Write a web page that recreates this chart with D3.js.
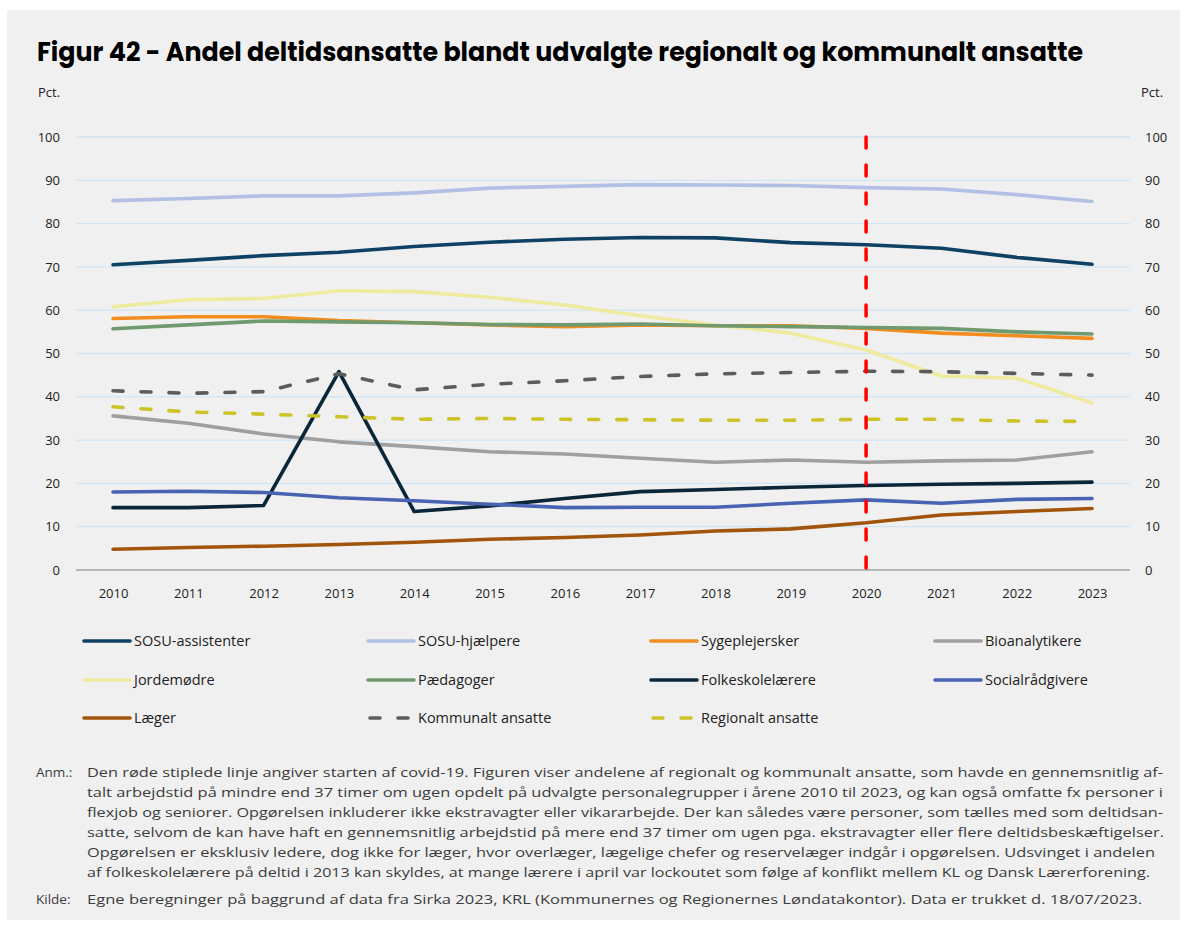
<!DOCTYPE html>
<html>
<head>
<meta charset="utf-8">
<script src="https://cdn.jsdelivr.net/npm/d3@7/dist/d3.min.js"></script>
<style>
  html, body { margin: 0; padding: 0; background: #ffffff; }
  svg { display: block; }
  text { font-family: "Open Sans", "Noto Sans", sans-serif; }
</style>
</head>
<body>
<svg id="chart" width="1186" height="926"></svg>
<script>
// Years on the x axis
const years = [2010, 2011, 2012, 2013, 2014, 2015, 2016, 2017, 2018, 2019, 2020, 2021, 2022, 2023];

// Share of part-time employees (pct.) per staff group
const sosuAssistenter   = [70.5, 71.5, 72.6, 73.4, 74.7, 75.7, 76.4, 76.8, 76.7, 75.6, 75.1, 74.3, 72.2, 70.6];
const sosuHjaelpere     = [85.3, 85.8, 86.4, 86.4, 87.1, 88.2, 88.6, 89.0, 88.9, 88.8, 88.3, 88.0, 86.7, 85.1];
const sygeplejersker    = [58.1, 58.5, 58.5, 57.6, 57.1, 56.6, 56.2, 56.6, 56.4, 56.4, 55.8, 54.7, 54.1, 53.5];
const bioanalytikere    = [35.6, 33.9, 31.4, 29.6, 28.5, 27.3, 26.8, 25.8, 24.9, 25.4, 24.9, 25.2, 25.4, 27.3];
const jordemoedre       = [60.8, 62.4, 62.7, 64.5, 64.3, 63.0, 61.2, 58.7, 56.6, 54.7, 50.8, 44.8, 44.3, 38.6];
const paedagoger        = [55.7, 56.6, 57.5, 57.3, 57.1, 56.7, 56.6, 56.8, 56.4, 56.2, 56.0, 55.8, 55.0, 54.5];
const folkeskolelaerere = [14.4, 14.4, 14.9, 45.8, 13.5, 14.8, 16.5, 18.1, 18.6, 19.1, 19.5, 19.8, 20.0, 20.3];
const socialraadgivere  = [18.0, 18.2, 17.9, 16.7, 16.0, 15.2, 14.4, 14.5, 14.5, 15.4, 16.2, 15.4, 16.3, 16.5];
const laeger            = [4.8, 5.2, 5.5, 5.9, 6.4, 7.1, 7.5, 8.1, 9.0, 9.5, 10.9, 12.7, 13.5, 14.2];
const kommunaltAnsatte  = [41.4, 40.8, 41.2, 45.3, 41.6, 42.9, 43.7, 44.7, 45.3, 45.6, 45.9, 45.8, 45.4, 45.0];
const regionaltAnsatte  = [37.7, 36.5, 36.0, 35.4, 34.8, 35.0, 34.8, 34.7, 34.6, 34.6, 34.8, 34.8, 34.4, 34.3];

// Series labels, in legend (and drawing) order
const seriesNames = ["SOSU-assistenter", "SOSU-hjælpere", "Sygeplejersker", "Bioanalytikere",
                     "Jordemødre", "Pædagoger", "Folkeskolelærere", "Socialrådgivere",
                     "Læger", "Kommunalt ansatte", "Regionalt ansatte"];
const seriesValues = [sosuAssistenter, sosuHjaelpere, sygeplejersker, bioanalytikere,
                      jordemoedre, paedagoger, folkeskolelaerere, socialraadgivere,
                      laeger, kommunaltAnsatte, regionaltAnsatte];
const seriesColors = ["#0e4163", "#b3bfe4", "#f28c1f", "#a09fa0",
                      "#eeea9e", "#6f9a6f", "#0b2638", "#4863b1",
                      "#a0540c", "#5c5c5c", "#cbc327"];
const seriesDashed = [false, false, false, false, false, false, false, false, false, true, true];

// Y axis ticks
const yTicks = [0, 10, 20, 30, 40, 50, 60, 70, 80, 90, 100];
// Year marking the start of covid-19
const covidYear = 2020;

const titleText = "Figur 42 - Andel deltidsansatte blandt udvalgte regionalt og kommunalt ansatte";
const noteLines = [
  "Den røde stiplede linje angiver starten af covid-19. Figuren viser andelene af regionalt og kommunalt ansatte, som havde en gennemsnitlig af-",
  "talt arbejdstid på mindre end 37 timer om ugen opdelt på udvalgte personalegrupper i årene 2010 til 2023, og kan også omfatte fx personer i",
  "flexjob og seniorer. Opgørelsen inkluderer ikke ekstravagter eller vikararbejde. Der kan således være personer, som tælles med som deltidsan-",
  "satte, selvom de kan have haft en gennemsnitlig arbejdstid på mere end 37 timer om ugen pga. ekstravagter eller flere deltidsbeskæftigelser.",
  "Opgørelsen er eksklusiv ledere, dog ikke for læger, hvor overlæger, lægelige chefer og reservelæger indgår i opgørelsen. Udsvinget i andelen",
  "af folkeskolelærere på deltid i 2013 kan skyldes, at mange lærere i april var lockoutet som følge af konflikt mellem KL og Dansk Lærerforening."
];
const sourceLine = "Egne beregninger på baggrund af data fra Sirka 2023, KRL (Kommunernes og Regionernes Løndatakontor). Data er trukket d. 18/07/2023.";

const svg = d3.select("#chart");

// Panel background
svg.append("rect").attr("x", 7).attr("y", 10).attr("width", 1173).attr("height", 910).attr("fill", "#f0f0f0");

// Title
svg.append("text")
  .attr("x", 37).attr("y", 61)
  .attr("textLength", 1046).attr("lengthAdjust", "spacingAndGlyphs")
  .style("font-family", "Poppins, 'Open Sans', sans-serif")
  .style("font-weight", 700).style("font-size", "26px").attr("fill", "#000")
  .text(titleText);

// Scales
const x = d3.scalePoint().domain(years).range([113, 1092]);
const y = d3.scaleLinear().domain([0, 100]).range([570, 137]);

// Gridlines
svg.append("g").selectAll("line").data(yTicks.filter(d => d > 0)).join("line")
  .attr("x1", 76).attr("x2", 1130)
  .attr("y1", d => y(d)).attr("y2", d => y(d))
  .attr("stroke", "#cfe5f6").attr("stroke-width", 1.3);

// Baseline
svg.append("line").attr("x1", 76).attr("x2", 1130).attr("y1", y(0)).attr("y2", y(0))
  .attr("stroke", "#a3a3a3").attr("stroke-width", 1.3);

// Left and right value axes (labels only)
const axisLeft = d3.axisLeft(y).tickValues(yTicks).tickSize(0).tickPadding(0);
const gl = svg.append("g").attr("transform", "translate(60,0)").call(axisLeft);
const axisRight = d3.axisRight(y).tickValues(yTicks).tickSize(0).tickPadding(0);
const gr = svg.append("g").attr("transform", "translate(1145,0)").call(axisRight);
const axisBottom = d3.axisBottom(x).tickSize(0).tickPadding(0).tickFormat(d3.format("d"));
const gb = svg.append("g").attr("transform", "translate(0,598)").call(axisBottom);
[gl, gr, gb].forEach(g => {
  g.select(".domain").remove();
  g.selectAll("text").style("font-size", "13px").attr("fill", "#222")
    .style("font-family", "'Open Sans', sans-serif");
});
gb.selectAll("text").attr("dy", "0");

// Unit labels
svg.append("text").attr("x", 38).attr("y", 97).style("font-size", "13px").attr("fill", "#222").text("Pct.");
svg.append("text").attr("x", 1141).attr("y", 97).style("font-size", "13px").attr("fill", "#222").text("Pct.");

// Lines
const line = d3.line().x((d, i) => x(years[i])).y(d => y(d));
const lines = svg.append("g");
seriesValues.forEach((vals, k) => {
  lines.append("path")
    .datum(vals)
    .attr("d", line)
    .attr("fill", "none")
    .attr("stroke", seriesColors[k])
    .attr("stroke-width", 3.6)
    .attr("stroke-linejoin", "round")
    .attr("stroke-linecap", "round")
    .attr("stroke-dasharray", seriesDashed[k] ? "10,18" : null);
});

// Covid-19 marker
svg.append("line")
  .attr("x1", x(covidYear)).attr("x2", x(covidYear))
  .attr("y1", y(100)).attr("y2", y(0))
  .attr("stroke", "#ff0000").attr("stroke-width", 3.5)
  .attr("stroke-linecap", "round")
  .attr("stroke-dasharray", "11,17");

// Legend: 4 columns x 3 rows
const legendCols = [84, 368, 651, 935];
const legendRows = [641, 680, 718];
const legend = svg.append("g");
seriesNames.forEach((name, k) => {
  const lx = legendCols[k % 4], ly = legendRows[Math.floor(k / 4)];
  legend.append("line")
    .attr("x1", lx + (seriesDashed[k] ? 2 : 0)).attr("x2", lx + 46)
    .attr("y1", ly).attr("y2", ly)
    .attr("stroke", seriesColors[k]).attr("stroke-width", 3.6)
    .attr("stroke-linecap", "round")
    .attr("stroke-dasharray", seriesDashed[k] ? "10,18" : null);
  legend.append("text")
    .attr("x", lx + 50).attr("y", ly + 5)
    .style("font-size", "14.5px").attr("fill", "#222")
    .text(name);
});

// Notes and source
const noteWidths = [1076, 1076, 1076, 1077, 1068, 1063];
svg.append("text").attr("x", 36).attr("y", 777).style("font-size", "13.5px").attr("fill", "#3c3c3c").text("Anm.:");
noteLines.forEach((t, i) => {
  svg.append("text")
    .attr("x", 87).attr("y", 777 + i * 20)
    .attr("textLength", noteWidths[i]).attr("lengthAdjust", "spacingAndGlyphs")
    .style("font-size", "13.5px").attr("fill", "#3c3c3c")
    .text(t);
});
svg.append("text").attr("x", 36).attr("y", 904).style("font-size", "13.5px").attr("fill", "#3c3c3c").text("Kilde:");
svg.append("text").attr("x", 87).attr("y", 904)
  .attr("textLength", 1055).attr("lengthAdjust", "spacingAndGlyphs")
  .style("font-size", "13.5px").attr("fill", "#3c3c3c").text(sourceLine);
</script>
</body>
</html>
